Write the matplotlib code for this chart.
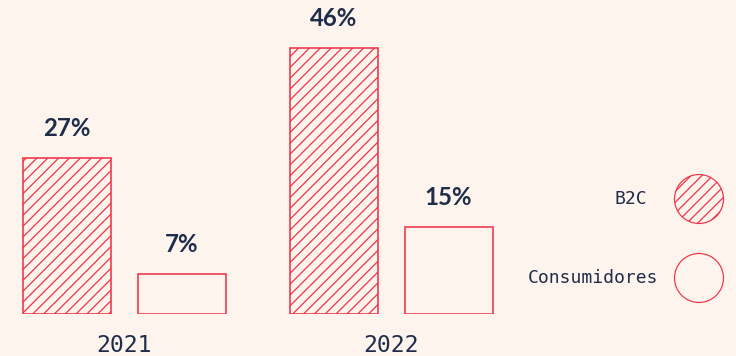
import matplotlib.pyplot as plt
from matplotlib.patches import Circle
import numpy as np

plt.rcParams["hatch.linewidth"] = 0.7

# -------------------------
# data
# -------------------------

years = ["2021", "2022"]
b2c = [27, 46]
consumidores = [7, 15]
series_names = ["B2C", "Consumidores"]

# -------------------------
# style
# -------------------------

DPI = 130
W, H = 736, 356
bg = "#FDF4EE"
red = "#EF3548"
navy = "#1F2D4B"


def pt(px):
    return px * 72 / DPI


fig = plt.figure(figsize=(W / DPI, H / DPI), dpi=DPI, facecolor=bg)

# axes: bottom at y=314 px, full width
ax = fig.add_axes([0, (H - 314) / H, 1, 314 / H])
ax.set_facecolor(bg)

x = np.arange(len(years))
width = 88 / 267
off = 57.5 / 267

bars1 = ax.bar(x - off, b2c, width, facecolor=bg, edgecolor=red,
               hatch="////", linewidth=pt(1.6))
bars2 = ax.bar(x + off, consumidores, width, facecolor=bg, edgecolor=red,
               linewidth=pt(1.6))

for bars, vals in [(bars1, b2c), (bars2, consumidores)]:
    for b, v in zip(bars, vals):
        ax.annotate(f"{v}%", (b.get_x() + b.get_width() / 2, v),
                    xytext=(0, pt(18)), textcoords="offset points",
                    ha="center", va="bottom", fontsize=pt(24),
                    fontweight="bold", family="Lato", color=navy)

ax.set_xlim(-124 / 267, (W - 124) / 267)
ax.set_ylim(0, 314 / 5.78)

ax.set_xticks(x, years)
ax.tick_params(axis="x", length=0, pad=pt(20), labelsize=pt(23),
               labelcolor=navy)
for lab in ax.get_xticklabels():
    lab.set_family("DejaVu Sans Mono")
ax.set_yticks([])
for s in ax.spines.values():
    s.set_visible(False)

# -------------------------
# legend (pixel overlay)
# -------------------------

lg = fig.add_axes([0, 0, 1, 1])
lg.set_xlim(0, W)
lg.set_ylim(H, 0)
lg.axis("off")
lg.patch.set_alpha(0)

leg_y = [199, 278]
leg_text_x = [647, 658]
hatches = ["////", None]
for name, yy, tx, h in zip(series_names, leg_y, leg_text_x, hatches):
    lg.add_patch(Circle((699, yy), 24.5, facecolor="none", edgecolor=red,
                        hatch=h, linewidth=pt(1.2)))
    lg.text(tx, yy, name, ha="right", va="center", fontsize=pt(18),
            family="DejaVu Sans Mono", color=navy)

fig.savefig("out.png", dpi=DPI, facecolor=bg)
